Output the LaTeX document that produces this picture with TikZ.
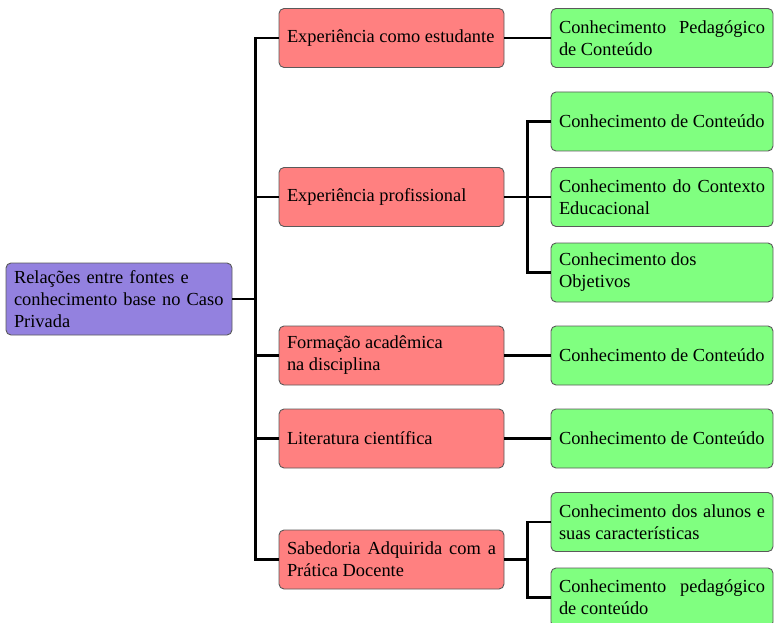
\documentclass[tikz,border=0pt]{standalone}
\usepackage{fontspec}
\setmainfont{Liberation Serif}
\hyphenpenalty=10000
\exhyphenpenalty=10000
\tolerance=10000
\definecolor{rootc}{RGB}{147,129,223}
\definecolor{redc}{RGB}{255,128,128}
\definecolor{greenc}{RGB}{128,255,128}
\definecolor{edgec}{RGB}{90,90,90}
\begin{document}
\begin{tikzpicture}[x=1pt,y=-1pt,
  box/.style={draw=edgec, line width=0.9pt, rounded corners=5pt,
    inner xsep=8pt, inner ysep=4pt, minimum height=59pt,
    font=\fontsize{18.4}{22}\selectfont, align=justify},
  rootbox/.style={box, fill=rootc, text width=210pt, minimum height=72pt, align=left},
  redbox/.style={box, fill=redc, text width=209pt},
  greenbox/.style={box, fill=greenc, text width=206pt},
  conn/.style={line width=2.8pt, line cap=rect}]
\useasboundingbox (0,0) rectangle (774,623);
\node[rootbox] (root) at (119,299) {Relações entre fontes e\\conhecimento base no Caso\\Privada};
\node[redbox] (r1) at (391.5,38) {Experiência como estudante};
\node[redbox] (r2) at (391.5,197) {Experiência profissional};
\node[redbox] (r3) at (391.5,355.5) {Formação acadêmica\\na disciplina};
\node[redbox] (r4) at (391.5,438.5) {Literatura científica};
\node[redbox] (r5) at (391.5,559.5) {Sabedoria Adquirida com a Prática Docente};
\node[greenbox] (g1) at (662,38) {Conhecimento Pedagógico de Conteúdo};
\node[greenbox] (g2) at (662,121.5) {Conhecimento de Conteúdo};
\node[greenbox] (g3) at (662,197) {Conhecimento do Contexto Educacional};
\node[greenbox] (g4) at (662,272.5) {Conhecimento dos\\Objetivos};
\node[greenbox] (g5) at (662,355.5) {Conhecimento de Conteúdo};
\node[greenbox] (g6) at (662,438.5) {Conhecimento de Conteúdo};
\node[greenbox] (g7) at (662,522) {Conhecimento dos alunos e suas características};
\node[greenbox] (g8) at (662,597.5) {Conhecimento pedagógico de conteúdo};
\coordinate (tk) at (255.5,0);
\coordinate (bk) at (527.5,0);
\begin{scope}[on background layer/.try]
\draw[conn, line cap=butt] (root.east) -- (root.east -| tk);
\draw[conn, line cap=butt] (r1.west) -- (r1.west -| tk) -- (r5.west -| tk) -- (r5.west);
\draw[conn, line cap=butt] (r2.west) -- (r2.west -| tk);
\draw[conn, line cap=butt] (r3.west) -- (r3.west -| tk);
\draw[conn, line cap=butt] (r4.west) -- (r4.west -| tk);
\draw[conn, line cap=butt] (r1.east) -- (g1.west);
\draw[conn, line cap=butt] (r2.east) -- (r2.east -| bk);
\draw[conn, line cap=butt] (g2.west) -- (g2.west -| bk) -- (g4.west -| bk) -- (g4.west);
\draw[conn, line cap=butt] (g3.west) -- (g3.west -| bk);
\draw[conn, line cap=butt] (r3.east) -- (g5.west);
\draw[conn, line cap=butt] (r4.east) -- (g6.west);
\draw[conn, line cap=butt] (r5.east) -- (r5.east -| bk);
\draw[conn, line cap=butt] (g7.west) -- (g7.west -| bk) -- (g8.west -| bk) -- (g8.west);
\end{scope}
\end{tikzpicture}
\end{document}
